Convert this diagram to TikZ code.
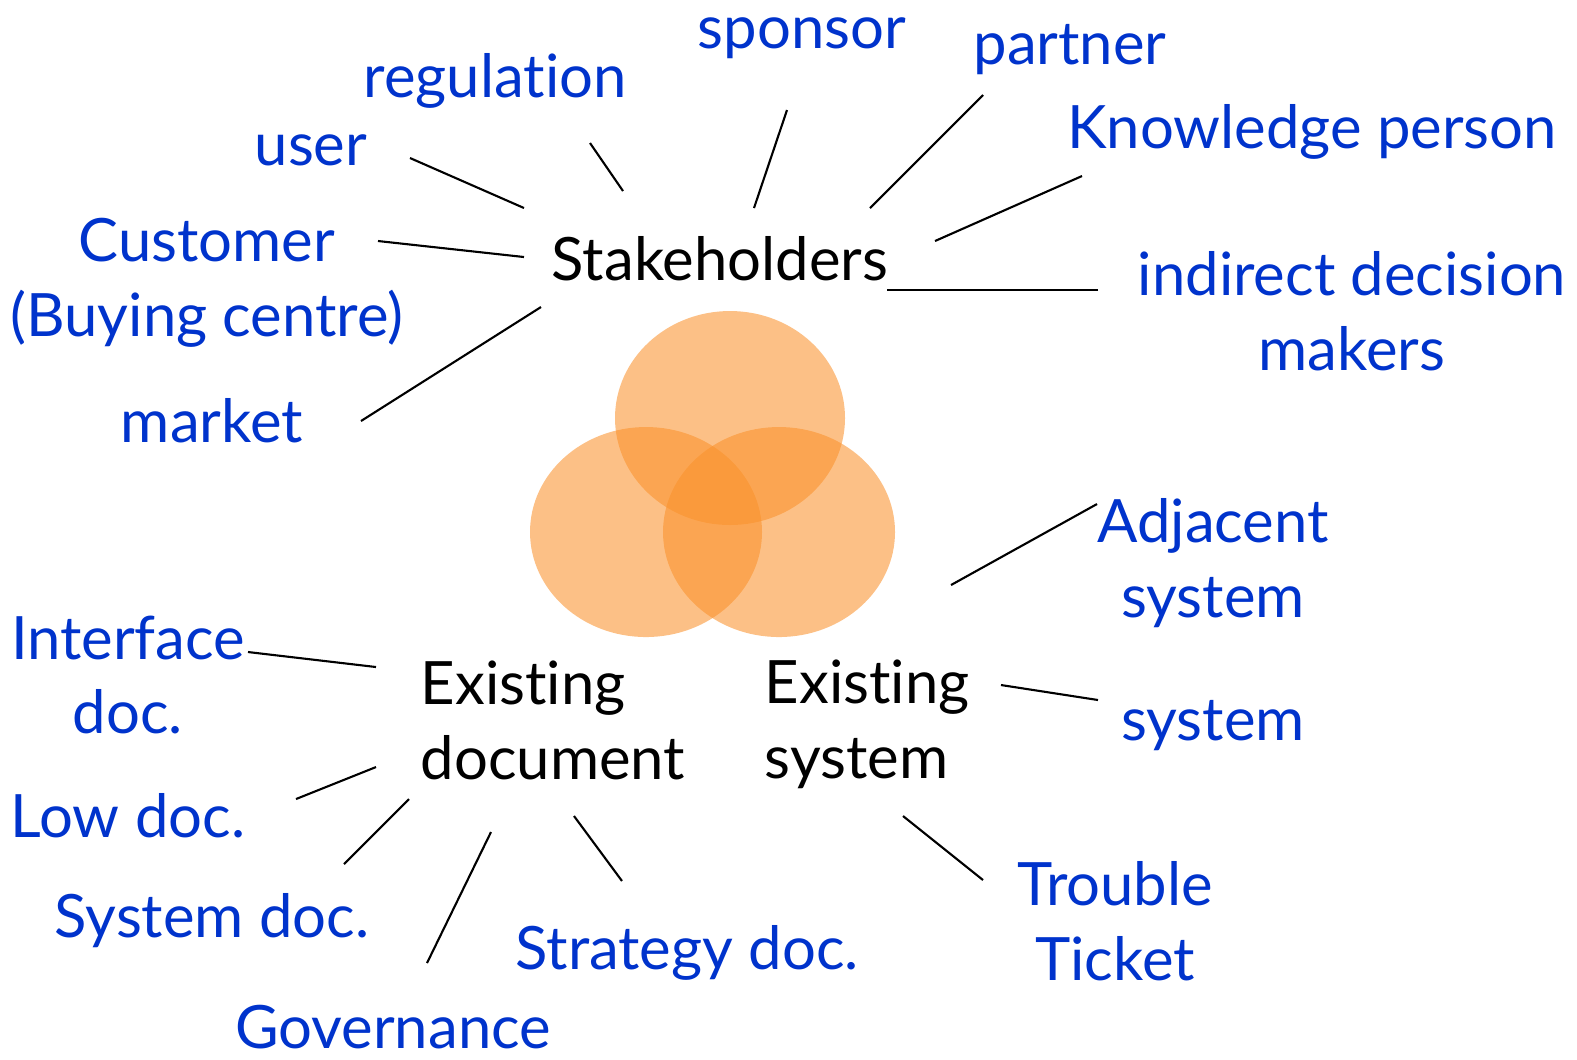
\documentclass[tikz,border=0pt]{standalone}
\usepackage{fontspec}
\setmainfont{Lato}[Ligatures=NoCommon]
\usetikzlibrary{positioning}
\definecolor{labelblue}{RGB}{0,51,204}
\definecolor{venn}{RGB}{250,145,43}

\begin{document}
\begin{tikzpicture}[x=0.01cm,y=-0.01cm,
	item/.style={text=labelblue,font=\fontsize{17}{21.3}\selectfont,align=center,inner sep=0pt},
	hub/.style={text=black,font=\fontsize{17}{21.3}\selectfont,align=left,inner sep=0pt},
	link/.style={draw=black,line width=0.6pt},
	blob/.style={fill=venn,fill opacity=0.57,draw=none}
	]

	\useasboundingbox (0,0) rectangle (1577,1059);

	% venn circles
	\fill[blob] (730,418) ellipse [x radius=115, y radius=107];
	\fill[blob] (646,532) ellipse [x radius=116, y radius=105];
	\fill[blob] (779,532) ellipse [x radius=116, y radius=105];

	% hubs
	\node[hub] (stake) at (720,259) {Stakeholders};
	\node[hub,anchor=west] (exdoc) at (420,720) {Existing\\document};
	\node[hub,anchor=west] (exsys) at (764,724) {Existing\\system};

	% stakeholder labels
	\node[item] (sponsor) at (802,38) {sponsor};
	\node[item] (regulation) at (495,81) {regulation};
	\node[item] (partner) at (1070,50) {partner};
	\node[item] (user) at (311,150) {user};
	\node[item] (knowledge) at (1312,132) {Knowledge person};
	\node[item] (customer) at (207,283) {Customer\\(Buying centre)};
	\node[item] (indirect) at (1352,311) {indirect decision\\makers};
	\node[item] (market) at (212,421) {market};

	% system labels
	\node[item] (adjacent) at (1213,563) {Adjacent\\system};
	\node[item] (system) at (1213,726) {system};
	\node[item] (trouble) at (1115,921) {Trouble\\Ticket};

	% document labels
	\node[item] (interface) at (128,675) {Interface\\doc.};
	\node[item] (lowdoc) at (128,816) {Low doc.};
	\node[item] (sysdoc) at (212,921) {System doc.};
	\node[item] (strategy) at (687,953) {Strategy doc.};
	\node[item] (governance) at (393,1027) {Governance};

	% line ends
	\coordinate (user-a) at (410,158);       \coordinate (user-b) at (524,208);
	\coordinate (reg-a) at (590,143);        \coordinate (reg-b) at (623,191);
	\coordinate (spon-a) at (787,110);       \coordinate (spon-b) at (754,208);
	\coordinate (part-a) at (983,95);        \coordinate (part-b) at (870,208);
	\coordinate (know-a) at (1082,176);      \coordinate (know-b) at (935,241);
	\coordinate (ind-a) at (1098,290);       \coordinate (ind-b) at (887,290);
	\coordinate (cust-a) at (378,241);       \coordinate (cust-b) at (524,257);
	\coordinate (mark-a) at (361,421);       \coordinate (mark-b) at (541,307);
	\coordinate (adj-a) at (1097,504);       \coordinate (adj-b) at (951,585);
	\coordinate (sys-a) at (1098,700);       \coordinate (sys-b) at (1001,685);
	\coordinate (trou-a) at (983,880);       \coordinate (trou-b) at (903,816);
	\coordinate (intf-a) at (248,652);       \coordinate (intf-b) at (376,667);
	\coordinate (low-a) at (296,799);        \coordinate (low-b) at (376,767);
	\coordinate (sdoc-a) at (344,864);       \coordinate (sdoc-b) at (409,799);
	\coordinate (gov-a) at (427,963);        \coordinate (gov-b) at (491,832);
	\coordinate (strat-a) at (622,881);      \coordinate (strat-b) at (574,816);

	\foreach \a/\b in {user-a/user-b,reg-a/reg-b,spon-a/spon-b,part-a/part-b,
		know-a/know-b,ind-a/ind-b,cust-a/cust-b,mark-a/mark-b,adj-a/adj-b,
		sys-a/sys-b,trou-a/trou-b,intf-a/intf-b,low-a/low-b,sdoc-a/sdoc-b,
		gov-a/gov-b,strat-a/strat-b}
		\draw[link] (\a) -- (\b);

\end{tikzpicture}
\end{document}
